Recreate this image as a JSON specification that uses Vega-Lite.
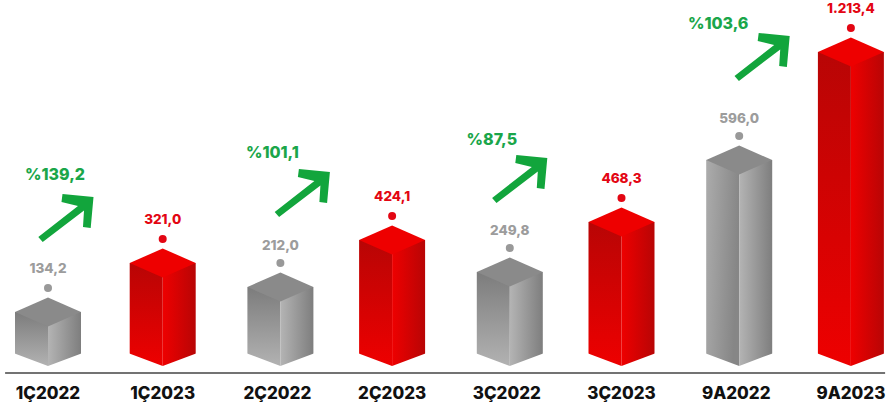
{
"$schema":"https://vega.github.io/schema/vega-lite/v6.json",
"width":892,"height":373,"padding":{"left":0,"top":0,"right":0,"bottom":41},"autosize":{"type":"none"},"background":"white",
"config":{"view":{"stroke":null}},
"datasets":{
"rows":[
{"period":"1Ç2022","value":134.2,"label":"134,2","group":"2022"},
{"period":"1Ç2023","value":321.0,"label":"321,0","group":"2023"},
{"period":"2Ç2022","value":212.0,"label":"212,0","group":"2022"},
{"period":"2Ç2023","value":424.1,"label":"424,1","group":"2023"},
{"period":"3Ç2022","value":249.8,"label":"249,8","group":"2022"},
{"period":"3Ç2023","value":468.3,"label":"468,3","group":"2023"},
{"period":"9A2022","value":596.0,"label":"596,0","group":"2022"},
{"period":"9A2023","value":1213.4,"label":"1.213,4","group":"2023"}],
"growth":[
{"period":"1Ç2022","change":"%139,2","arrow":476.5,"text":565},
{"period":"2Ç2022","change":"%101,1","arrow":528,"text":636},
{"period":"3Ç2022","change":"%87,5","arrow":557,"text":710},
{"period":"9A2022","change":"%103,6","arrow":1185,"text":1314}]
},
"data":{"name":"rows"},
"encoding":{
"x":{"field":"period","type":"nominal","title":null,"sort":null,
"scale":{"type":"band","domain":["1Ç2022","1Ç2023","2Ç2022","2Ç2023","3Ç2022","3Ç2023","9A2022","9A2023"],"range":[-9.35,908.25],"paddingInner":0,"paddingOuter":0},
"axis":{"domain":false,"ticks":false,"labelAngle":0,"labelFont":"Inter","labelFontSize":17,"labelFontWeight":800,"labelColor":"#111111","labelPadding":12,"labelBound":false,"labelOverlap":false,"grid":false}},
"y":{"field":"value","type":"quantitative","axis":null,
"scale":{"domain":[-20,0,134.2,212,249.8,321,424.1,468.3,596,1213.4,1400],"range":[373,366,312,287,272,263,240,222,160,52,0],"clamp":false}}
},
"layer":[
{"transform":[{"filter":"datum.period=='1Ç2022'"}],"mark":{"type":"bar","width":33,"xOffset":-16.5,"fill":{"gradient":"linear","x1":0,"y1":0,"x2":0,"y2":1,"stops":[{"offset":0,"color":"#7c7c7c"},{"offset":1,"color":"#b2b2b2"}]}}},
{"transform":[{"filter":"datum.period=='1Ç2022'"}],"mark":{"type":"bar","width":33,"xOffset":16.5,"fill":{"gradient":"linear","x1":0,"y1":0,"x2":1,"y2":0,"stops":[{"offset":0,"color":"#b4b4b4"},{"offset":1,"color":"#7e7e7e"}]}}},
{"transform":[{"filter":"datum.period=='2Ç2022'||datum.period=='3Ç2022'"}],"mark":{"type":"bar","width":33,"xOffset":-13.5,"fill":{"gradient":"linear","x1":0,"y1":0,"x2":0,"y2":1,"stops":[{"offset":0,"color":"#7c7c7c"},{"offset":1,"color":"#b2b2b2"}]}}},
{"transform":[{"filter":"datum.period=='9A2022'"}],"mark":{"type":"bar","width":33,"xOffset":-13.5,"fill":{"gradient":"linear","x1":0,"y1":0,"x2":1,"y2":0.25,"stops":[{"offset":0,"color":"#acacac"},{"offset":1,"color":"#868686"}]}}},
{"transform":[{"filter":"datum.group=='2022'&&datum.period!='1Ç2022'"}],"mark":{"type":"bar","width":33,"xOffset":19.5,"fill":{"gradient":"linear","x1":0,"y1":0,"x2":1,"y2":0,"stops":[{"offset":0,"color":"#b4b4b4"},{"offset":1,"color":"#7e7e7e"}]}}},
{"transform":[{"filter":"datum.group=='2023'"}],"mark":{"type":"bar","width":33,"xOffset":-16.5,"fill":{"gradient":"linear","x1":0,"y1":0,"x2":0,"y2":1,"stops":[{"offset":0,"color":"#b80505"},{"offset":1,"color":"#ee0000"}]}}},
{"transform":[{"filter":"datum.group=='2023'"}],"mark":{"type":"bar","width":33,"xOffset":16.5,"fill":{"gradient":"linear","x1":0,"y1":0,"x2":1,"y2":0,"stops":[{"offset":0,"color":"#ee0000"},{"offset":1,"color":"#b80505"}]}}},
{"transform":[{"filter":"datum.group=='2023'||datum.period=='1Ç2022'"}],"mark":{"type":"point","filled":true,"opacity":1,"size":4356,"strokeWidth":0,"shape":"M-1,0L0,-0.44L1,0L0,0.44Z"},
 "encoding":{"color":{"condition":{"test":"datum.group=='2022'","value":"#8a8a8a"},"value":"#ee0000"}}},
{"transform":[{"filter":"datum.group=='2022'&&datum.period!='1Ç2022'"}],"mark":{"type":"point","filled":true,"opacity":1,"size":4356,"strokeWidth":0,"color":"#8a8a8a","xOffset":3,"shape":"M-1,0L0,-0.44L1,0L0,0.44Z"}},
{"transform":[{"filter":"datum.group=='2023'||datum.period=='1Ç2022'"}],"mark":{"type":"point","filled":true,"opacity":1,"size":4356,"strokeWidth":0,"color":"white","shape":"M-1.03,0.1L-1.03,-0.39L0,0L1.03,-0.39L1.03,0.1Z"},
 "encoding":{"y":{"datum":0}}},
{"transform":[{"filter":"datum.group=='2022'&&datum.period!='1Ç2022'"}],"mark":{"type":"point","filled":true,"opacity":1,"size":4356,"strokeWidth":0,"color":"white","xOffset":3,"shape":"M-1.03,0.1L-1.03,-0.39L0,0L1.03,-0.39L1.03,0.1Z"},
 "encoding":{"y":{"datum":0}}},
{"data":{"values":[{"period":"2Ç2023","level":-20}]},"mark":{"type":"point","filled":true,"opacity":1,"color":"#444444","strokeWidth":0,"size":774400,"xOffset":53,"shape":"M-1,-0.0017L1,-0.0017L1,0.0017L-1,0.0017Z"},
 "encoding":{"y":{"field":"level","type":"quantitative"}}},
{"transform":[{"filter":"datum.group=='2023'||datum.period=='1Ç2022'"}],"mark":{"type":"point","filled":true,"opacity":1,"size":64,"strokeWidth":0,"yOffset":-24},
 "encoding":{"color":{"condition":{"test":"datum.group=='2022'","value":"#999999"},"value":"#e30613"}}},
{"transform":[{"filter":"datum.group=='2022'&&datum.period!='1Ç2022'"}],"mark":{"type":"point","filled":true,"opacity":1,"size":64,"strokeWidth":0,"yOffset":-24,"xOffset":3,"color":"#999999"}},
{"transform":[{"filter":"datum.group=='2023'||datum.period=='1Ç2022'"}],"mark":{"type":"text","font":"Inter","fontSize":13.5,"fontWeight":800,"baseline":"middle","dy":-43},
 "encoding":{"text":{"field":"label"},"color":{"condition":{"test":"datum.group=='2022'","value":"#9c9c9c"},"value":"#e30613"}}},
{"transform":[{"filter":"datum.group=='2022'&&datum.period!='1Ç2022'"}],"mark":{"type":"text","font":"Inter","fontSize":13.5,"fontWeight":800,"baseline":"middle","dy":-41.5,"dx":3,"color":"#9c9c9c"},
 "encoding":{"text":{"field":"label"}}},
{"data":{"name":"growth"},"transform":[{"filter":"datum.period=='1Ç2022'"}],"mark":{"type":"point","filled":true,"opacity":1,"color":"#12a53c","strokeWidth":0,"size":3025,"xOffset":18,"shape":"M-1.007,0.69L0.436,-0.436L-0.164,-0.582L-0.127,-0.873L1,-0.764L0.898,0.364L0.618,0.327L0.655,-0.273L-0.847,0.873Z"},"encoding":{"y":{"field":"arrow","type":"quantitative"}}},
{"data":{"name":"growth"},"transform":[{"filter":"datum.period=='2Ç2022'"}],"mark":{"type":"point","filled":true,"opacity":1,"color":"#12a53c","strokeWidth":0,"size":3025,"xOffset":25,"shape":"M-1.007,0.69L0.436,-0.436L-0.164,-0.582L-0.127,-0.873L1,-0.764L0.898,0.364L0.618,0.327L0.655,-0.273L-0.847,0.873Z"},"encoding":{"y":{"field":"arrow","type":"quantitative"}}},
{"data":{"name":"growth"},"transform":[{"filter":"datum.period=='3Ç2022'"}],"mark":{"type":"point","filled":true,"opacity":1,"color":"#12a53c","strokeWidth":0,"size":3025,"xOffset":13,"shape":"M-1.007,0.69L0.436,-0.436L-0.164,-0.582L-0.127,-0.873L1,-0.764L0.898,0.364L0.618,0.327L0.655,-0.273L-0.847,0.873Z"},"encoding":{"y":{"field":"arrow","type":"quantitative"}}},
{"data":{"name":"growth"},"transform":[{"filter":"datum.period=='9A2022'"}],"mark":{"type":"point","filled":true,"opacity":1,"color":"#12a53c","strokeWidth":0,"size":3025,"xOffset":26,"shape":"M-1.007,0.69L0.436,-0.436L-0.164,-0.582L-0.127,-0.873L1,-0.764L0.898,0.364L0.618,0.327L0.655,-0.273L-0.847,0.873Z"},"encoding":{"y":{"field":"arrow","type":"quantitative"}}},
{"data":{"name":"growth"},"transform":[{"filter":"datum.period=='1Ç2022'"}],"mark":{"type":"text","font":"Inter","fontSize":16,"fontWeight":800,"color":"#1aa64a","baseline":"middle","dx":7},"encoding":{"y":{"field":"text","type":"quantitative"},"text":{"field":"change"}}},
{"data":{"name":"growth"},"transform":[{"filter":"datum.period=='2Ç2022'"}],"mark":{"type":"text","font":"Inter","fontSize":16,"fontWeight":800,"color":"#1aa64a","baseline":"middle","dx":-5},"encoding":{"y":{"field":"text","type":"quantitative"},"text":{"field":"change"}}},
{"data":{"name":"growth"},"transform":[{"filter":"datum.period=='3Ç2022'"}],"mark":{"type":"text","font":"Inter","fontSize":16,"fontWeight":800,"color":"#1aa64a","baseline":"middle","dx":-15},"encoding":{"y":{"field":"text","type":"quantitative"},"text":{"field":"change"}}},
{"data":{"name":"growth"},"transform":[{"filter":"datum.period=='9A2022'"}],"mark":{"type":"text","font":"Inter","fontSize":16,"fontWeight":800,"color":"#1aa64a","baseline":"middle","dx":-18},"encoding":{"y":{"field":"text","type":"quantitative"},"text":{"field":"change"}}}
]
}
